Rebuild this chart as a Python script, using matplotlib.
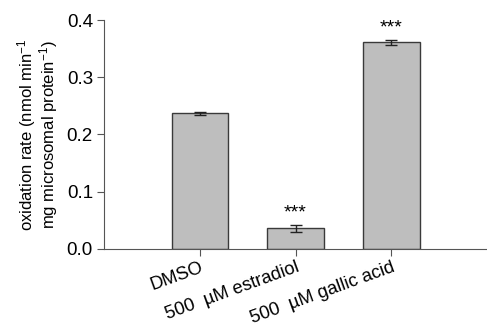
import numpy as np
import matplotlib
matplotlib.use("Agg")
import matplotlib.pyplot as plt

plt.rcParams['font.family'] = ['Liberation Sans', 'DejaVu Sans']
plt.rcParams['mathtext.fontset'] = 'custom'
plt.rcParams['mathtext.rm'] = 'Liberation Sans'
plt.rcParams['mathtext.it'] = 'Liberation Sans'

# data
categories = ['DMSO', '500  \u00b5M estradiol', '500  \u00b5M gallic acid']
rates = [0.237, 0.036, 0.361]
errors = [0.003, 0.006, 0.004]
marks = ['', '***', '***']

fig = plt.figure(figsize=(4.87, 3.28), dpi=100)
ax = fig.add_axes([0.2136, 0.241, 0.7864, 0.698])

x = np.arange(len(categories))
ax.bar(x, rates, width=0.59, color='#bebebe', edgecolor='#3a3a3a', linewidth=1.0,
       yerr=errors, capsize=4, error_kw=dict(ecolor='#222222', elinewidth=1.0, capthick=1.0),
       zorder=2)

for xi, r, e, m in zip(x, rates, errors, marks):
    if m:
        ax.text(xi, r + e + 0.006, m, ha='center', va='bottom', fontsize=14)

ax.set_xlim(-1, 3)
ax.set_ylim(0, 0.4)
ax.set_yticks([0.0, 0.1, 0.2, 0.3, 0.4])
ax.set_yticklabels(['0.0', '0.1', '0.2', '0.3', '0.4'])
ax.set_xticks(x)
ax.set_xticklabels(categories, rotation=20, ha='right', rotation_mode='anchor')

ax.spines['top'].set_visible(False)
ax.spines['right'].set_visible(False)
for s in ['left', 'bottom']:
    ax.spines[s].set_color('#555555')
ax.tick_params(axis='both', direction='out', length=5, color='#555555', labelsize=13.5)
ax.tick_params(axis='y', pad=3)
ax.tick_params(axis='x', pad=2, labelsize=13.2)

ax.set_ylabel('oxidation rate (nmol min$^{-1}$\nmg microsomal protein$^{-1}$)',
              fontsize=12, linespacing=0.95, labelpad=5)

fig.savefig('out.png', dpi=100)
